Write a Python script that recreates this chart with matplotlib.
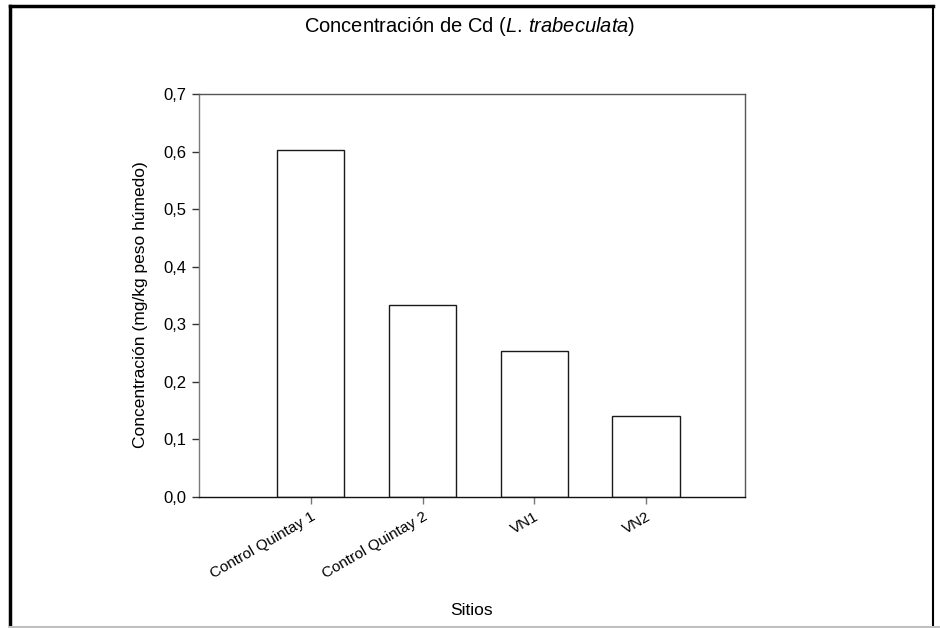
import matplotlib
matplotlib.use("Agg")
import matplotlib.pyplot as plt
from matplotlib.lines import Line2D
from matplotlib.ticker import FuncFormatter

plt.rcParams["font.family"] = ["Liberation Sans", "DejaVu Sans"]
plt.rcParams["mathtext.fontset"] = "custom"
plt.rcParams["mathtext.rm"] = "Liberation Sans"
plt.rcParams["mathtext.it"] = "Liberation Sans:italic"

# Cd concentration per site (mg/kg wet weight)
sitios = ["Control Quintay 1", "Control Quintay 2", "VN1", "VN2"]
concentracion = [0.602, 0.334, 0.254, 0.140]
y_ticks = [0.0, 0.1, 0.2, 0.3, 0.4, 0.5, 0.6, 0.7]

fig = plt.figure(figsize=(9.4, 6.28), dpi=100)
ax = fig.add_axes([0.2117, 0.2086, 0.5809, 0.6417])

pos = list(range(1, len(sitios) + 1))
ax.bar(pos, concentracion, width=0.6, facecolor="white",
       edgecolor="#1a1a1a", linewidth=1.0)

ax.set_xlim(0.0, 4.886)
ax.set_ylim(0.0, 0.7)
ax.set_yticks(y_ticks)
ax.yaxis.set_major_formatter(FuncFormatter(lambda v, p: f"{v:.1f}".replace(".", ",")))
ax.set_xticks(pos)
ax.set_xticklabels(sitios, rotation=30, ha="right", va="top",
                   rotation_mode="anchor", fontsize=11)

for s in ax.spines.values():
    s.set_linewidth(1.0)
ax.spines["left"].set_color("#7a7a7a")
ax.spines["top"].set_color("#555555")
ax.spines["right"].set_color("#555555")
ax.spines["bottom"].set_color("#111111")

ax.tick_params(axis="y", direction="out", length=5, width=1,
               color="#333333", labelsize=12, pad=4)
ax.tick_params(axis="x", direction="out", length=5, width=1,
               color="#777777", pad=4)

ax.set_ylabel("Concentración (mg/kg peso húmedo)", fontsize=12.5)
ax.yaxis.set_label_coords(-0.093, 0.478)
fig.text(0.502, 0.028, "Sitios", ha="center", va="center", fontsize=12.5)
fig.text(0.5, 0.958, r"Concentración de Cd ($\mathit{L.\,trabeculata}$)",
         ha="center", va="center", fontsize=14.5)

# outer frame
fig.add_artist(Line2D([0.0106, 0.0106], [0.0, 0.99], transform=fig.transFigure,
                      color="black", linewidth=2.5))
fig.add_artist(Line2D([0.0106, 0.993], [0.99, 0.99], transform=fig.transFigure,
                      color="black", linewidth=2.5))
fig.add_artist(Line2D([0.993, 0.993], [0.0, 0.99], transform=fig.transFigure,
                      color="black", linewidth=1.5))
fig.add_artist(Line2D([0.0106, 1.0], [0.0015, 0.0015], transform=fig.transFigure,
                      color="#c0c0c0", linewidth=1.5))

fig.savefig("out.png", dpi=100, facecolor="white")
